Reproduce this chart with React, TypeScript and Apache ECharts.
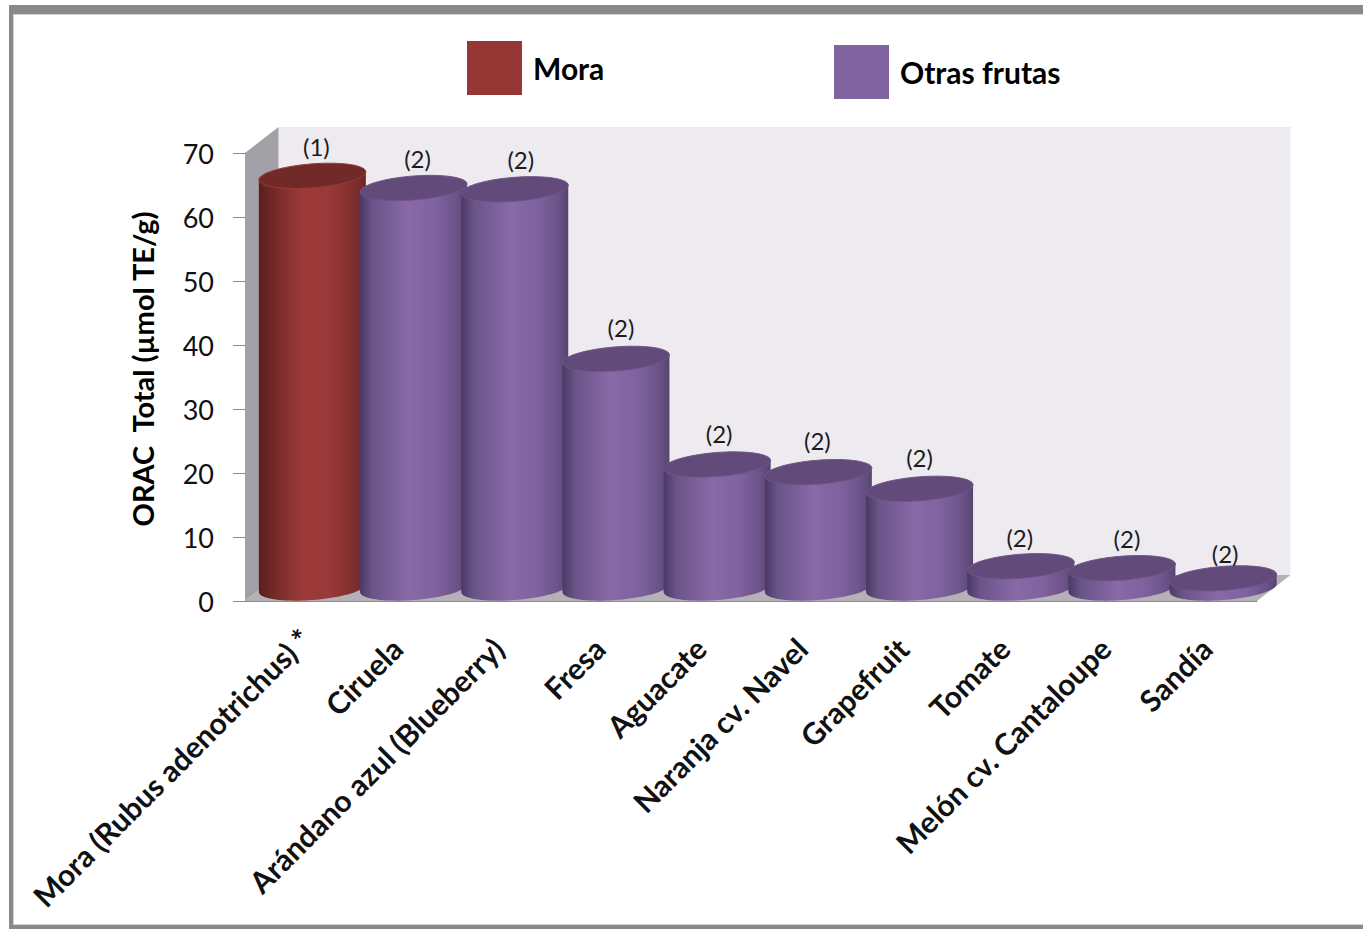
import { useEffect, useRef } from "react";
import * as echarts from "echarts";

const categories = [
  "Mora (Rubus adenotrichus) *",
  "Ciruela",
  "Arándano azul (Blueberry)",
  "Fresa",
  "Aguacate",
  "Naranja cv. Navel",
  "Grapefruit",
  "Tomate",
  "Melón cv. Cantaloupe",
  "Sandía",
];
const moraValues = [64.4];
const otherValues = [62.5, 62.3, 35.8, 19.3, 18.1, 15.5, 3.4, 3.1, 1.5];
const references = ["(1)", "(2)", "(2)", "(2)", "(2)", "(2)", "(2)", "(2)", "(2)", "(2)"];
const yTicks = { min: 0, max: 70, interval: 10 };

// Hand placement of the reference marks above each cylinder.
const referenceNudgeX = [1, 1, 3, 2, -1, -4, -3, -4, 2, -1];
const referenceNudgeY = [0, -1, -1, -2, -2, -3, -2, 0, -1, 4];

const FONT = "Lato";
const GRID = { left: 245, top: 153, width: 1012, height: 448 };
// Depth of the box behind the plot, and the plane on which the cylinders stand.
const DEPTH_X = 33.5;
const DEPTH_Y = 26;
const RADIUS_X = 53.5;
const RADIUS_Y = 12;
const SKEW = 4;

const RED = {
  top: "#722a28",
  rim: "#9a3b39",
  stops: [
    [0, "#591f1e"],
    [0.2, "#7d2e2c"],
    [0.42, "#9d3a39"],
    [0.65, "#9a3938"],
    [0.9, "#7d2e2c"],
    [1, "#6d2826"],
  ],
};
const PURPLE = {
  top: "#624a7a",
  rim: "#6f5689",
  stops: [
    [0, "#4a3967"],
    [0.12, "#6a5488"],
    [0.45, "#8969a8"],
    [0.7, "#8062a0"],
    [0.9, "#6b5388"],
    [1, "#574470"],
  ],
};

const FRAME = "#898989";
const FRAME_EDGE = "#d4d4d4";

function ellipsePoints(cx: number, cy: number, from: number, to: number, steps = 48) {
  const pts: number[][] = [];
  for (let i = 0; i <= steps; i++) {
    const t = from + ((to - from) * i) / steps;
    const c = Math.cos(t);
    pts.push([cx + RADIUS_X * c, cy + RADIUS_Y * Math.sin(t) - SKEW * c]);
  }
  return pts;
}

function cylinder(palette: typeof RED) {
  return (_params: any, api: any) => {
    const index = api.value(0);
    const base = api.coord([index, 0]);
    const head = api.coord([index, api.value(1)]);
    const cx = base[0] + DEPTH_X / 2;
    const yBase = base[1] - DEPTH_Y / 2;
    const yTop = head[1] - DEPTH_Y / 2;
    // Left side, lower half of the base walked round to the right, right side.
    const outline = [
      [cx - RADIUS_X, yTop + SKEW],
      ...ellipsePoints(cx, yBase, Math.PI, 0),
      [cx + RADIUS_X, yTop - SKEW],
    ];
    return {
      type: "group",
      children: [
        {
          type: "polygon",
          shape: { points: outline },
          style: {
            fill: new echarts.graphic.LinearGradient(
              0,
              0,
              1,
              0,
              palette.stops.map(([offset, color]) => ({ offset, color })) as any,
            ),
          },
        },
        {
          type: "polygon",
          shape: { points: ellipsePoints(cx, yTop, 0, Math.PI * 2, 72) },
          style: { fill: palette.top, stroke: palette.rim, lineWidth: 1 },
        },
        {
          type: "text",
          x: cx + 3 + referenceNudgeX[index],
          y: yTop - 29 + referenceNudgeY[index],
          style: {
            text: references[index],
            fill: "#1c1c1c",
            font: `24px ${FONT}`,
            align: "center",
            verticalAlign: "middle",
          },
        },
      ],
    };
  };
}

// Back wall, side wall and floor of the box, taken from the cartesian frame.
function box(params: any) {
  const { x, y, width, height } = params.coordSys;
  const bottom = y + height;
  const right = x + width;
  return {
    type: "group",
    silent: true,
    children: [
      {
        type: "polygon",
        shape: {
          points: [
            [x + DEPTH_X, y - DEPTH_Y],
            [right + DEPTH_X, y - DEPTH_Y],
            [right + DEPTH_X, bottom - DEPTH_Y],
            [x + DEPTH_X, bottom - DEPTH_Y],
          ],
        },
        style: { fill: "#edebf0" },
      },
      {
        type: "polygon",
        shape: {
          points: [
            [x, y],
            [x + DEPTH_X, y - DEPTH_Y],
            [x + DEPTH_X, bottom - DEPTH_Y],
            [x, bottom],
          ],
        },
        style: { fill: "#a3a1a7" },
      },
      {
        type: "polygon",
        shape: {
          points: [
            [x, bottom],
            [x + DEPTH_X, bottom - DEPTH_Y],
            [right + DEPTH_X, bottom - DEPTH_Y],
            [right, bottom],
          ],
        },
        style: { fill: "#b4b2b6" },
      },
    ],
  };
}

const legendText = {
  fontFamily: FONT,
  fontWeight: "bold",
  fontSize: 30,
  color: "#000000",
  padding: [0, 0, 5, 6],
};

export default function App() {
  const ref = useRef<HTMLDivElement>(null);

  useEffect(() => {
    const chart = echarts.init(ref.current!, undefined, { renderer: "svg" });
    chart.setOption({
      animation: false,
      backgroundColor: "#ffffff",
      grid: { ...GRID, containLabel: false },
      legend: [
        {
          data: ["Mora"],
          left: 462,
          top: 36,
          icon: "rect",
          itemWidth: 55,
          itemHeight: 54,
          itemGap: 0,
          selectedMode: false,
          textStyle: legendText,
        },
        {
          data: ["Otras frutas"],
          left: 829,
          top: 40,
          icon: "rect",
          itemWidth: 55,
          itemHeight: 54,
          itemGap: 0,
          selectedMode: false,
          textStyle: legendText,
        },
      ],
      xAxis: {
        type: "category",
        // The long first label runs further up its slope than the others.
        data: categories.map((value, i) =>
          i === 0 ? { value, textStyle: { align: "center", padding: [0, 351, 0, 0] } } : value,
        ),
        axisLine: { lineStyle: { color: "#8a8a8a", width: 1 } },
        axisTick: { show: false },
        axisLabel: {
          interval: 0,
          rotate: 45,
          margin: 42,
          fontFamily: FONT,
          fontWeight: "bold",
          fontSize: 30,
          color: "#111111",
        },
      },
      yAxis: {
        type: "value",
        ...yTicks,
        name: "ORAC  Total (µmol TE/g)",
        nameLocation: "middle",
        nameGap: 88,
        nameTextStyle: {
          fontFamily: FONT,
          fontWeight: "bold",
          fontSize: 29,
          color: "#000000",
          padding: [0, 0, 0, 16],
        },
        axisLine: { show: true, lineStyle: { color: "#8a8a8a", width: 1 } },
        axisTick: { show: true, length: 12, lineStyle: { color: "#8a8a8a", width: 1 } },
        axisLabel: { margin: 31, fontFamily: FONT, fontSize: 27, color: "#111111" },
        splitLine: { show: false },
      },
      series: [
        { type: "custom", name: "box", renderItem: box, data: [[0, 0]], z: 1, silent: true },
        {
          type: "custom",
          name: "Mora",
          z: 2,
          itemStyle: { color: "#953735" },
          encode: { x: 0, y: 1 },
          renderItem: cylinder(RED),
          data: moraValues.map((v, i) => [i, v]),
        },
        {
          type: "custom",
          name: "Otras frutas",
          z: 3,
          itemStyle: { color: "#8064a2" },
          encode: { x: 0, y: 1 },
          renderItem: cylinder(PURPLE),
          data: otherValues.map((v, i) => [i + moraValues.length, v]),
        },
      ],
      graphic: [
        { type: "rect", shape: { x: 13, y: 14, width: 1350, height: 1 }, style: { fill: FRAME_EDGE }, silent: true },
        { type: "rect", shape: { x: 13, y: 14, width: 1, height: 911 }, style: { fill: FRAME_EDGE }, silent: true },
        { type: "rect", shape: { x: 13, y: 924, width: 1350, height: 1 }, style: { fill: FRAME_EDGE }, silent: true },
        { type: "rect", shape: { x: 9, y: 5, width: 1354, height: 9 }, style: { fill: FRAME }, silent: true },
        { type: "rect", shape: { x: 9, y: 5, width: 4, height: 924 }, style: { fill: FRAME }, silent: true },
        { type: "rect", shape: { x: 9, y: 925, width: 1354, height: 4 }, style: { fill: FRAME }, silent: true },
      ],
    });
    return () => chart.dispose();
  }, []);

  return <div ref={ref} style={{ position: "absolute", left: 0, top: 0, width: 1363, height: 929 }} />;
}
